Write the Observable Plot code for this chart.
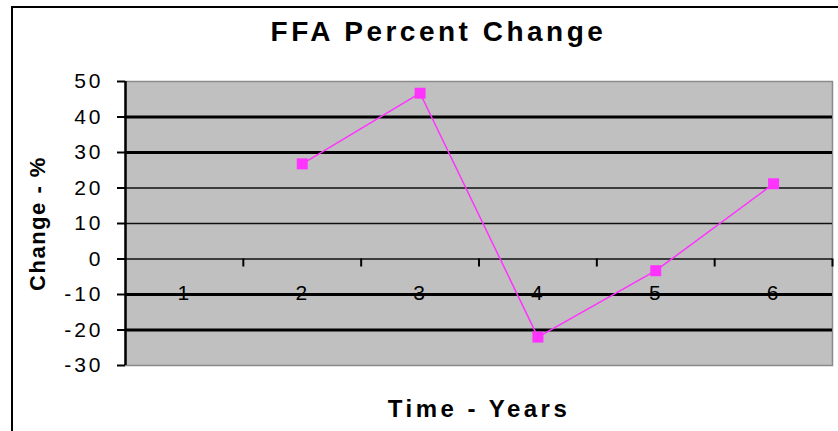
<!DOCTYPE html>
<html>
<head>
<meta charset="utf-8">
<script src="https://cdn.jsdelivr.net/npm/d3@7"></script>
<script src="https://cdn.jsdelivr.net/npm/@observablehq/plot@0.6"></script>
<style>
  html, body { margin: 0; padding: 0; background: #fff; }
  #wrap { position: relative; width: 838px; height: 431px; overflow: hidden; font-family: "Liberation Sans", Arial, sans-serif; }
  #border { position: absolute; left: 11px; top: 6px; width: 900px; height: 500px; border-left: 2.5px solid #000; border-top: 2.5px solid #000; }
  #title { position: relative; height: 62px; }
  #title span { position: absolute; left: 0; width: 877px; top: 18px; text-align: center; font-size: 28px; line-height: 28px; font-weight: bold; letter-spacing: 3.5px; color: #000; }
  #chart { position: relative; }
</style>
</head>
<body>
<div id="wrap">
  <div id="border"></div>
  <div id="title"><span>FFA Percent Change</span></div>
  <div id="chart"></div>
</div>
<script>
const years = [1, 2, 3, 4, 5, 6];
const change = [null, 26.8, 46.7, -22.0, -3.3, 21.2];
const yTicks = [-30, -20, -10, 0, 10, 20, 30, 40, 50];
const heavyGrid = [40, 30, -10, -20];
const lightGrid = [20, 10, 0];
const xDomain = [0.5, 6.5];
const yDomain = [-30, 50];
const xBoundaries = [1.5, 2.5, 3.5, 4.5, 5.5, 6.5];
const yTitle = "Change - %";
const xTitle = "Time - Years";

const data = years.map((yr, i) => ({year: yr, value: change[i]})).filter(d => d.value != null);
const magenta = "#ff33ff";

const chart = Plot.plot({
  width: 838,
  height: 369,
  marginLeft: 125,
  marginRight: 6,
  marginTop: 19,
  marginBottom: 66,
  style: {fontFamily: "'Liberation Sans', Arial, sans-serif", fontSize: "21px", color: "#000", background: "transparent"},
  x: {domain: xDomain, axis: null},
  y: {domain: yDomain, axis: null},
  marks: [
    Plot.frame({fill: "#c0c0c0", stroke: "#8a8a8a", strokeWidth: 1.5}),
    Plot.ruleY(lightGrid, {stroke: "#111", strokeWidth: 1.5}),
    Plot.ruleY(heavyGrid, {stroke: "#000", strokeWidth: 2.8}),
    Plot.ruleX(xBoundaries, {y1: () => 0, y2: () => 0, insetBottom: -8, stroke: "#000", strokeWidth: 2}),
    Plot.ruleX([xDomain[0]], {stroke: "#000", strokeWidth: 2.5}),
    Plot.axisY(yTicks, {anchor: "left", tickSize: 8, tickPadding: 14, strokeWidth: 2, fontSize: 21, label: null, tickFormat: d => String(d)}),
    Plot.text(years, {x: d => d, y: () => 0, dy: 34.5, text: d => String(d), fontSize: 21, lineAnchor: "middle", textAnchor: "middle"}),
    Plot.line(data, {x: "year", y: "value", stroke: magenta, strokeWidth: 1.5}),
    Plot.dot(data, {x: "year", y: "value", symbol: "square", r: 6.2, fill: magenta, stroke: "none"}),
    Plot.text([yTitle], {frameAnchor: "left", dx: -88, rotate: -90, fontSize: 22, fontWeight: "bold", lineAnchor: "middle", textAnchor: "middle"}),
    Plot.text([xTitle], {frameAnchor: "bottom", dy: 44, fontSize: 24, fontWeight: "bold", lineAnchor: "middle", textAnchor: "middle"})
  ]
});
document.getElementById("chart").appendChild(chart);
const svg = d3.select(chart);
svg.selectAll('g[aria-label="y-axis tick label"] text').attr("letter-spacing", "3px");
svg.selectAll('g[aria-label="text"] text').each(function() {
  const t = this.textContent;
  if (t === yTitle) d3.select(this).attr("letter-spacing", "1.5px");
  else if (t === xTitle) d3.select(this).attr("letter-spacing", "3.5px");
  else d3.select(this).attr("letter-spacing", "2px");
});
</script>
</body>
</html>
